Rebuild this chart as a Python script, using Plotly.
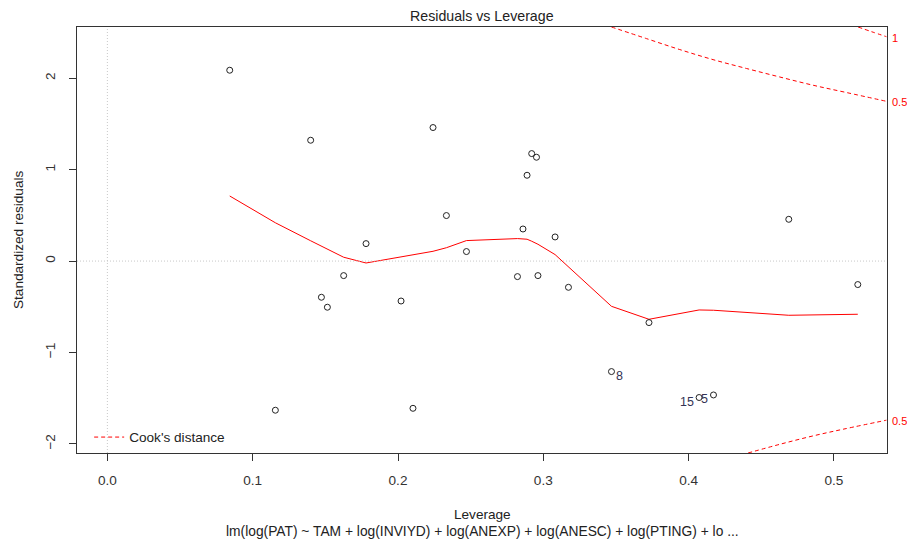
import plotly.graph_objects as go

# Leverage (hat values) and standardized residuals of the fitted model
leverage = [0.0842, 0.1156, 0.1399, 0.1473, 0.1514, 0.1626, 0.1780, 0.2021, 0.2103,
            0.2241, 0.2333, 0.2471, 0.2822, 0.2860, 0.2888, 0.2920, 0.2953, 0.2963,
            0.3081, 0.3173, 0.3469, 0.3727, 0.4072, 0.4171, 0.4689, 0.5164]
std_resid = [2.088, -1.632, 1.322, -0.396, -0.505, -0.159, 0.191, -0.437, -1.611,
             1.461, 0.498, 0.104, -0.170, 0.351, 0.939, 1.176, 1.136, -0.159,
             0.264, -0.287, -1.209, -0.673, -1.493, -1.465, 0.457, -0.257]

# Smoothed trend of residuals against leverage
smooth_y = [0.712, 0.419, 0.222, 0.163, 0.130, 0.042, -0.021, 0.046, 0.069,
            0.107, 0.146, 0.224, 0.246, 0.244, 0.239, 0.217, 0.195, 0.184,
            0.071, -0.065, -0.495, -0.637, -0.535, -0.538, -0.593, -0.582]

# Flagged observations: (leverage, residual, label)
flag_x = [0.3469, 0.4072, 0.4171]
flag_y = [-1.209, -1.493, -1.465]
flag_lab = ["8", "15", "5"]
flag_side = ["right", "left", "left"]

# Cook's distance contours
cook_up05_x = [0.3469, 0.3710, 0.3939, 0.4168, 0.4398, 0.4627, 0.4856, 0.5086, 0.5361]
cook_up05_y = [2.561, 2.434, 2.314, 2.204, 2.107, 2.014, 1.924, 1.844, 1.748]
cook_up1_x = [0.5166, 0.5260, 0.5361]
cook_up1_y = [2.561, 2.509, 2.455]
cook_lo05_x = [0.4409, 0.4627, 0.4856, 0.5086, 0.5361]
cook_lo05_y = [-2.100, -2.005, -1.913, -1.832, -1.741]
cook_labels = ["1", "0.5", "0.5"]

x_ticks = [0.0, 0.1, 0.2, 0.3, 0.4, 0.5]
x_tick_text = ["0.0", "0.1", "0.2", "0.3", "0.4", "0.5"]
y_ticks = [-2, -1, 0, 1, 2]

FONT = "Liberation Sans, Arial, sans-serif"
FS = 13.6
RED = "#FF0000"
INK = "#222222"

fig = go.Figure()

dash = "4px,3px"
fig.add_trace(go.Scatter(x=cook_up05_x, y=cook_up05_y, mode="lines",
                         line=dict(color=RED, width=1, dash=dash, shape="spline"),
                         name="Cook's distance", showlegend=True, hoverinfo="skip"))
fig.add_trace(go.Scatter(x=cook_up1_x, y=cook_up1_y, mode="lines",
                         line=dict(color=RED, width=1, dash=dash, shape="spline"),
                         showlegend=False, hoverinfo="skip"))
fig.add_trace(go.Scatter(x=cook_lo05_x, y=cook_lo05_y, mode="lines",
                         line=dict(color=RED, width=1, dash=dash, shape="spline"),
                         showlegend=False, hoverinfo="skip"))

fig.add_trace(go.Scatter(x=leverage, y=smooth_y, mode="lines",
                         line=dict(color=RED, width=1), showlegend=False))

fig.add_trace(go.Scatter(x=leverage, y=std_resid, mode="markers",
                         marker=dict(symbol="circle-open", size=6,
                                     line=dict(color=INK, width=1), color=INK),
                         showlegend=False))

# reference lines through the origin
fig.add_hline(y=0, line=dict(color="#C8C8C8", width=1, dash="1px,2px"))
fig.add_vline(x=0, line=dict(color="#C8C8C8", width=1, dash="1px,2px"))

# labels on flagged observations
for xv, yv, lab, side in zip(flag_x, flag_y, flag_lab, flag_side):
    fig.add_annotation(x=xv, y=yv, text=lab, showarrow=False,
                       xanchor="left" if side == "right" else "right",
                       xshift=3 if side == "right" else -3, yshift=-4,
                       font=dict(family=FONT, size=12.5, color="#333355"))

# contour level labels on the right margin
for yv, lab in zip([cook_up1_y[-1], cook_up05_y[-1], cook_lo05_y[-1]], cook_labels):
    fig.add_annotation(x=1, xref="paper", y=yv, text=lab, showarrow=False,
                       xanchor="left", xshift=3, yshift=-1,
                       font=dict(family=FONT, size=11, color=RED))

# titles
fig.add_annotation(x=0.5, xref="paper", y=1, yref="paper", yshift=11,
                   text="Residuals vs Leverage", showarrow=False, yanchor="middle",
                   font=dict(family=FONT, size=14.2, color=INK))
fig.add_annotation(x=0.5, xref="paper", y=0, yref="paper", yshift=-61,
                   text="Leverage", showarrow=False, yanchor="middle",
                   font=dict(family=FONT, size=FS, color=INK))
fig.add_annotation(x=0.5, xref="paper", y=0, yref="paper", yshift=-78,
                   text="lm(log(PAT) ~ TAM + log(INVIYD) + log(ANEXP) + log(ANESC) + log(PTING) + lo ...",
                   showarrow=False, yanchor="middle",
                   font=dict(family=FONT, size=13.8, color=INK))
fig.add_annotation(x=0, xref="paper", xshift=-59, y=0.5, yref="paper",
                   text="Standardized residuals", textangle=-90, showarrow=False,
                   xanchor="center", font=dict(family=FONT, size=FS, color=INK))

axis_common = dict(showline=True, mirror=True, linecolor="#333333", linewidth=1,
                   ticks="outside", ticklen=7, tickcolor="#333333", showgrid=False,
                   zeroline=False, tickfont=dict(family=FONT, size=FS, color="#333333"))

fig.update_layout(
    width=907, height=544,
    margin=dict(l=77, r=20, t=27, b=91),
    plot_bgcolor="white", paper_bgcolor="white",
    xaxis=dict(range=[-0.0209, 0.5365], tickvals=x_ticks, ticktext=x_tick_text,
               ticklabelstandoff=8, **axis_common),
    yaxis=dict(range=[-2.100, 2.561], tickvals=y_ticks, tickangle=-90,
               ticklabelstandoff=9, **axis_common),
    legend=dict(x=0.015, y=0.037, xanchor="left", yanchor="middle",
                bgcolor="rgba(0,0,0,0)", borderwidth=0,
                font=dict(family=FONT, size=FS, color=INK)),
    showlegend=True,
)

fig.write_html("out.html")
